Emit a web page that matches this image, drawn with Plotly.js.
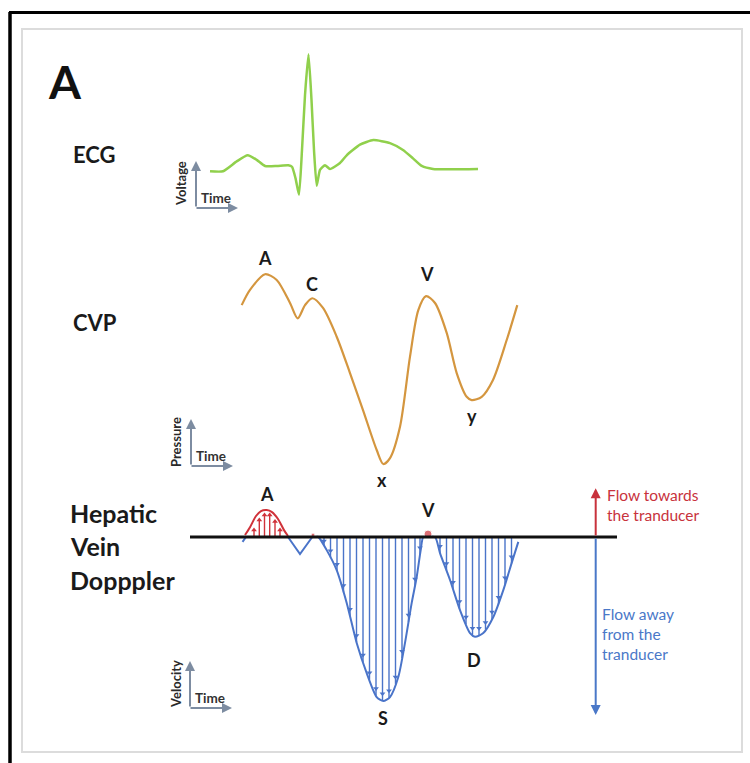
<!DOCTYPE html>
<html><head><meta charset="utf-8">
<script src="https://cdn.plot.ly/plotly-3.0.1.min.js"></script>
<style>html,body{margin:0;padding:0;background:#fff}#chart{width:750px;height:763px}</style>
</head><body><div id="chart"></div>
<script>
// ---- ECG (time units, voltage in mV) ----
const ecgTime = [210,223,236.7,247.7,256.7,265,276.7,288.3,292,295.5,299,302,305,308.5,311.5,314,316.7,320,325,330,340,346.7,360,373.3,390,403,413,421.7,433,478];
const ecgVoltage = [-0.03,-0.03,0.10,0.18,0.12,0.04,0.04,0.05,0.03,-0.12,-0.34,0.25,0.97,1.51,0.91,0.25,-0.22,-0.01,0.05,0.0,0.08,0.18,0.32,0.38,0.34,0.25,0.14,0.04,0,0];

// ---- CVP (pressure, mmHg) ----
const cvpTime = [241.7,250,265,276.7,290,297.7,305,312.3,323,336.7,350,363,376.7,383.3,390,400,410,418.3,426,435,446.7,456.7,466.7,471.7,481.7,493,506.7,517.3];
const cvpPressure = [8.69,9.33,9.99,9.75,8.78,8.13,8.69,8.98,8.57,7.36,5.83,4.27,2.59,2.0,2.25,3.57,6.52,8.48,9.07,8.78,7.52,5.83,4.83,4.69,4.83,5.54,7.22,8.69];
const cvpLabels = ["A","C","V","x","y"];
const cvpLabelTime = [265,312,427,382,472];
const cvpLabelValue = [10.67,9.58,10.0,1.33,4.02];

// ---- Hepatic vein Doppler (velocity, cm/s) ----
const preATime = [242.5,246];
const preAVelocity = [-1.5,0];
const aWaveTime = [245,250,256,261,266.7,272,278,284,288];
const aWaveVelocity = [0.6,3.0,6.4,7.9,8.2,7.6,5.5,2.1,0.3];
const dipTime = [288,300,313];
const dipVelocity = [0,-5.2,0.3];
const sdTime = [316,318.3,326.7,336.7,346.7,356.7,366.7,376.7,383.3,390,398.3,405,411.7,416.7,420.7,423.3,428,435,440,450,460,470,475,483.3,493.3,503.3,511.7,518.3];
const sdVelocity = [0,0,-4.0,-10.1,-20.1,-32.3,-41.5,-48.8,-50,-48.8,-42.7,-32.3,-20.1,-12.2,-4.0,0,0,0,-4.9,-13.1,-22.3,-29.3,-30.4,-29.3,-24.4,-16.2,-7.9,-1.5];
const sHatchTime = [324,330.5,337,343.5,350,356.5,363,369.5,376,382.5,389,395.5,402,408.5,415,420];
const sHatchVelocity = [-2.7,-6.3,-10.4,-16.9,-24.1,-32.1,-38.1,-43.5,-48.3,-49.9,-49.0,-44.8,-36.9,-25.9,-14.9,-5.4];
const dHatchTime = [440,446.5,453,459.5,466,472.5,479,485.5,492,498.5,505,511.5];
const dHatchVelocity = [-4.9,-10.2,-15.9,-21.8,-26.5,-29.9,-29.9,-28.2,-25.0,-20.5,-14.5,-8.1];
const aHatchTime = [254,259.3,264.5,269.7,275,280];
const aHatchVelocity = [2.1,5.2,6.7,6.7,4.7,2.1];
const redDotTime = [313,428];
const redDotVelocity = [0.6,0.9];
const dopLabels = ["A","V","S","D"];
const dopLabelTime = [267,428,383,474];
const dopLabelValue = [13.1,8.2,-55.2,-37.5];

// ---- helpers ----
const W = 750, H = 763;
const FONT = "Lato, 'Open Sans', sans-serif";
const px = x => x / W, py = y => 1 - y / H;
function segs(t, v) {
  const x = [], y = [];
  t.forEach((ti, i) => { x.push(ti, ti, null); y.push(0, v[i], null); });
  return {x, y};
}
const BLUE = '#4a74c9', RED = '#d0323a', ICON = '#7d8ca1';
const headInset = 2.1;

const sH = segs(sHatchTime, sHatchVelocity), dH = segs(dHatchTime, dHatchVelocity), aH = segs(aHatchTime, aHatchVelocity);
const headT = sHatchTime.concat(dHatchTime);
const headV = sHatchVelocity.concat(dHatchVelocity).map(v => Math.min(v + headInset, -1.2));

const traces = [
  {x: ecgTime, y: ecgVoltage, yaxis: 'y', mode: 'lines', line: {color: '#90d04c', width: 2.5, shape: 'spline', smoothing: 0.5}},
  {x: cvpTime, y: cvpPressure, yaxis: 'y2', mode: 'lines', line: {color: '#d4963f', width: 2.2, shape: 'spline', smoothing: 0.8}},
  {x: sH.x.concat(dH.x), y: sH.y.concat(dH.y), yaxis: 'y3', mode: 'lines', line: {color: BLUE, width: 1.4}},
  {x: headT, y: headV, yaxis: 'y3', mode: 'markers', marker: {symbol: 'triangle-down', size: 5, color: BLUE}},
  {x: aH.x, y: aH.y, yaxis: 'y3', mode: 'lines', line: {color: RED, width: 1.4}},
  {x: aHatchTime, y: aHatchVelocity, yaxis: 'y3', mode: 'markers', marker: {symbol: 'triangle-up', size: 5, color: RED}},
  {x: sdTime, y: sdVelocity, yaxis: 'y3', mode: 'lines', line: {color: BLUE, width: 2, shape: 'spline', smoothing: 0.7}},
  {x: dipTime, y: dipVelocity, yaxis: 'y3', mode: 'lines', line: {color: BLUE, width: 2}},
  {x: preATime, y: preAVelocity, yaxis: 'y3', mode: 'lines', line: {color: BLUE, width: 2}},
  {x: aWaveTime, y: aWaveVelocity, yaxis: 'y3', mode: 'lines', line: {color: RED, width: 2, shape: 'spline', smoothing: 0.8}},
  {x: redDotTime, y: redDotVelocity, yaxis: 'y3', mode: 'markers', marker: {size: [4, 8], color: RED}}
];

const ecgRange = [(169 - H) / 76, 169 / 76];
const cvpRange = [2 - (H - 464) / 23.75, 2 + 464 / 23.75];
const dopRange = [-(H - 537) / 3.28, 537 / 3.28];

const ann = [];
function txt(text, x, y, size, color, opts) {
  ann.push(Object.assign({text: text, x: px(x), y: py(y), xref: 'paper', yref: 'paper', showarrow: false,
    font: {family: FONT, size: size, color: color, weight: 700}, xanchor: 'left', yanchor: 'middle'}, opts || {}));
}
txt('A', 46, 81, 46, '#111');
txt('ECG', 71, 154, 22, '#1a1a1a');
txt('CVP', 71, 322, 22, '#1a1a1a');
txt('Hepatic', 68, 513, 25, '#1a1a1a');
txt('Vein', 68, 546, 25, '#1a1a1a');
txt('Dopppler', 68, 580, 25, '#1a1a1a');

const lblFont = {family: FONT, size: 18, color: '#1a1a1a', weight: 700};
cvpLabels.forEach((l, i) => ann.push({text: l, x: cvpLabelTime[i], y: cvpLabelValue[i], xref: 'x', yref: 'y2', showarrow: false, font: lblFont}));
dopLabels.forEach((l, i) => ann.push({text: l, x: dopLabelTime[i], y: dopLabelValue[i], xref: 'x', yref: 'y3', showarrow: false, font: lblFont}));

function icon(cx, cy, label, labelX) {
  ann.push({text: '', x: px(cx), y: py(cy - 47), ax: px(cx), ay: py(cy), xref: 'paper', yref: 'paper', axref: 'paper', ayref: 'paper', showarrow: true, arrowhead: 2, arrowsize: 1, arrowwidth: 2, arrowcolor: ICON, standoff: 0, startstandoff: 0});
  ann.push({text: '', x: px(cx + 42), y: py(cy), ax: px(cx - 1), ay: py(cy), xref: 'paper', yref: 'paper', axref: 'paper', ayref: 'paper', showarrow: true, arrowhead: 2, arrowsize: 1, arrowwidth: 2, arrowcolor: ICON, standoff: 0, startstandoff: 0});
  txt('Time', cx + 3, cy - 10, 13.5, '#333');
  ann.push({text: label, x: px(labelX), y: py(cy - 24), xref: 'paper', yref: 'paper', showarrow: false, textangle: -90,
    font: {family: FONT, size: 13, color: '#2a2a2a', weight: 700}, xanchor: 'center', yanchor: 'middle'});
}
icon(196, 208, 'Voltage', 181);
icon(191, 466, 'Pressure', 176);
icon(190, 708, 'Velocity', 176);

ann.push({text: '', x: 595.7, y: 14.9, ax: 595.7, ay: 0, xref: 'x', yref: 'y3', axref: 'x', ayref: 'y3', showarrow: true, arrowhead: 2, arrowsize: 1, arrowwidth: 2, arrowcolor: '#c8323c', standoff: 0});
ann.push({text: '', x: 595.7, y: -54.3, ax: 595.7, ay: 0, xref: 'x', yref: 'y3', axref: 'x', ayref: 'y3', showarrow: true, arrowhead: 2, arrowsize: 1, arrowwidth: 2, arrowcolor: '#4a78c8', standoff: 0});
ann.push({text: 'Flow towards<br>the tranducer', x: px(605), y: py(504.5), xref: 'paper', yref: 'paper', showarrow: false, xanchor: 'left', yanchor: 'middle', align: 'left',
  font: {family: FONT, size: 15.5, color: '#c8323c'}});
ann.push({text: 'Flow away<br>from the<br>tranducer', x: px(600), y: py(634), xref: 'paper', yref: 'paper', showarrow: false, xanchor: 'left', yanchor: 'middle', align: 'left',
  font: {family: FONT, size: 15.5, color: '#4a78c8'}});

const shapes = [
  {type: 'rect', xref: 'paper', yref: 'paper', x0: px(22), x1: px(742), y0: py(752), y1: py(29), line: {color: '#dcdcdc', width: 2}},
  {type: 'line', xref: 'paper', yref: 'paper', x0: px(10), x1: px(10), y0: py(12), y1: 0, line: {color: '#000', width: 3.5}},
  {type: 'line', xref: 'paper', yref: 'paper', x0: px(9), x1: 1, y0: py(12.5), y1: py(12.5), line: {color: '#000', width: 3}},
  {type: 'line', xref: 'x', yref: 'y3', x0: 190, x1: 617, y0: 0, y1: 0, line: {color: '#111', width: 3}}
];

const axHidden = {visible: false, fixedrange: true, showgrid: false, zeroline: false};
const layout = {
  width: W, height: H, autosize: false, showlegend: false,
  margin: {l: 0, r: 0, t: 0, b: 0, pad: 0},
  paper_bgcolor: '#fff', plot_bgcolor: '#fff',
  xaxis: Object.assign({range: [0, W], domain: [0, 1]}, axHidden),
  yaxis: Object.assign({range: ecgRange, domain: [0, 1]}, axHidden),
  yaxis2: Object.assign({range: cvpRange, overlaying: 'y'}, axHidden),
  yaxis3: Object.assign({range: dopRange, overlaying: 'y'}, axHidden),
  annotations: ann, shapes: shapes
};
Plotly.newPlot('chart', traces, layout, {staticPlot: true, displayModeBar: false});
</script></body></html>
